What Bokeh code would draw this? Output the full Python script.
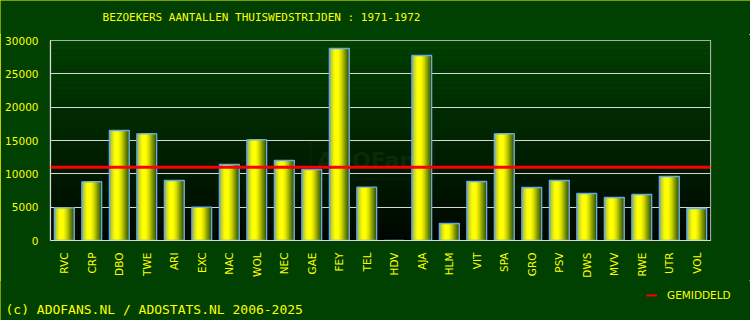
import math
from bokeh.plotting import figure
from bokeh.layouts import column
from bokeh.models import (ColumnDataSource, FactorRange, Range1d, FixedTicker, Span,
                          BoxAnnotation, Label, Legend, LegendItem)
from bokeh.transform import dodge
from bokeh.embed import file_html
from bokeh.resources import INLINE

# ---- data -------------------------------------------------------------
teams = ["RVC", "CRP", "DBO", "TWE", "ARI", "EXC", "NAC", "WOL", "NEC", "GAE", "FEY", "TEL",
         "HDV", "AJA", "HLM", "VIT", "SPA", "GRO", "PSV", "DWS", "MVV", "RWE", "UTR", "VOL"]
visitors = [4900, 8800, 16500, 16000, 9000, 5000, 11400, 15100, 12000, 10650, 28800, 8000,
            0, 27750, 2550, 8850, 16000, 7950, 9000, 7050, 6450, 6900, 9600, 4800]
played = [v for v in visitors if v > 0]
average = sum(played) / len(played)
y_ticks = [0, 5000, 10000, 15000, 20000, 25000, 30000]
title_text = "BEZOEKERS AANTALLEN THUISWEDSTRIJDEN : 1971-1972"
footer_text = "(c) ADOFANS.NL / ADOSTATS.NL 2006-2025"
legend_text = "GEMIDDELD"

YELLOW = "#ffff00"
GRID = "#d8d8d8"
BG = "#004000"


def lerp_hex(stops, t):
    for (t0, c0), (t1, c1) in zip(stops, stops[1:]):
        if t0 <= t <= t1:
            f = 0 if t1 == t0 else (t - t0) / (t1 - t0)
            a = [int(c0[k:k + 2], 16) for k in (1, 3, 5)]
            b = [int(c1[k:k + 2], 16) for k in (1, 3, 5)]
            return "#" + "".join("%02x" % int(round(a[j] + (b[j] - a[j]) * f)) for j in range(3))
    return stops[-1][1]


def strip(height):
    s = figure(width=750, height=height, x_range=Range1d(0, 750), y_range=Range1d(0, height),
               output_backend="svg", toolbar_location=None, min_border=0,
               border_fill_color=BG, background_fill_color=BG)
    s.frame_align = False
    s.axis.visible = False
    s.grid.visible = False
    s.outline_line_color = None
    return s


# ---- title strip ---------------------------------------------------------
t = strip(34)
t.add_layout(Label(x=261, y=17, x_units="screen", y_units="screen", text=title_text,
                   text_font="DejaVu Sans Mono", text_font_size="11px", text_color=YELLOW,
                   text_align="center", text_baseline="alphabetic"))

# ---- main chart ----------------------------------------------------------
src = ColumnDataSource(dict(team=teams, visitors=visitors))

p = figure(width=750, height=246, x_range=FactorRange(*teams, range_padding=0),
           y_range=Range1d(0, 30000), output_backend="svg", toolbar_location=None,
           min_border_left=50, min_border_right=40, min_border_top=6, min_border_bottom=40,
           border_fill_color=BG, background_fill_color="#002000")
p.frame_align = False

# plot-area vertical gradient (dark green -> black)
nb = 40
for i in range(nb):
    tt = i / (nb - 1)
    g = int(round(0x40 * (1 - tt) + 0x06 * tt))
    p.add_layout(BoxAnnotation(top=30000 - i * 30000 / nb, bottom=30000 - (i + 1) * 30000 / nb,
                               fill_color="#00%02x00" % g, fill_alpha=1.0, line_alpha=0,
                               level="image"))

# watermark
p.add_layout(Label(x=372 - 50, y=240 - 160, x_units="screen", y_units="screen", text="ADOFans",
                   text_font="DejaVu Sans", text_font_style="bold", text_font_size="22px",
                   text_color="#2c4a10", text_alpha=0.3, text_align="center",
                   text_baseline="middle", border_line_color="#2c4a10", border_line_alpha=0.25,
                   padding=6, level="image"))

# bars with horizontal gradient
stops = [(0.0, "#8c9c60"), (0.12, "#c8d830"), (0.28, "#ffff00"), (0.45, "#ffff00"),
         (0.6, "#d8dc00"), (0.8, "#7c9400"), (1.0, "#2c4a00")]
bw = 0.72
n = 24
sw = bw / n
for i in range(n):
    left = -bw / 2 + i * sw
    right = bw / 2
    c = lerp_hex(stops, (i + 0.5) / n)
    p.vbar(x=dodge("team", (left + right) / 2, range=p.x_range), top="visitors",
           width=right - left, source=src, fill_color=c, line_alpha=0)
p.vbar(x="team", top="visitors", width=bw, source=src, fill_alpha=0,
       line_color="#62aaf0", line_width=1.3)

# average line
p.add_layout(Span(location=average, dimension="width", line_color="#ff0000", line_width=3))

# axes & grid
p.xgrid.grid_line_color = None
p.ygrid.grid_line_color = GRID
p.ygrid.grid_line_width = 1.2
p.outline_line_color = GRID
p.outline_line_width = 1.2
for ax in (p.xaxis[0], p.yaxis[0]):
    ax.axis_line_color = GRID
    ax.axis_line_width = 1.2
    ax.major_tick_line_color = None
    ax.minor_tick_line_color = None
    ax.major_tick_out = 0
    ax.major_tick_in = 0
    ax.major_label_text_color = YELLOW
    ax.major_label_text_font = "DejaVu Sans"
    ax.major_label_text_font_size = "10.5px"
p.yaxis.ticker = FixedTicker(ticks=y_ticks)
p.yaxis.major_label_standoff = 12
p.yaxis.formatter.use_scientific = False
p.xaxis.major_label_orientation = math.pi / 2
p.xaxis.major_label_standoff = 12

# ---- footer strip with legend and copyright ----------------------------
f = strip(40)
dummy = f.line(x=[-20, -10], y=[-20, -20], line_color="#ff0000", line_width=2)
legend = Legend(items=[LegendItem(label=legend_text, renderers=[dummy])],
                location=(646, 16), padding=0, margin=0, spacing=0,
                glyph_width=11, glyph_height=18, label_standoff=10, label_height=18,
                background_fill_alpha=0, border_line_alpha=0,
                label_text_color=YELLOW, label_text_font="DejaVu Sans",
                label_text_font_size="10.5px")
f.add_layout(legend, "center")
f.add_layout(Label(x=5, y=11, x_units="screen", y_units="screen", text=footer_text,
                   text_font="DejaVu Sans Mono", text_font_size="13px", text_color=YELLOW,
                   text_align="left", text_baseline="alphabetic"))

layout = column(t, p, f, spacing=0)
layout.styles = {"outline": "1px solid #ffff00", "outline-offset": "-1px",
                 "background-color": BG}

open("out.html", "w").write(file_html(layout, INLINE))
